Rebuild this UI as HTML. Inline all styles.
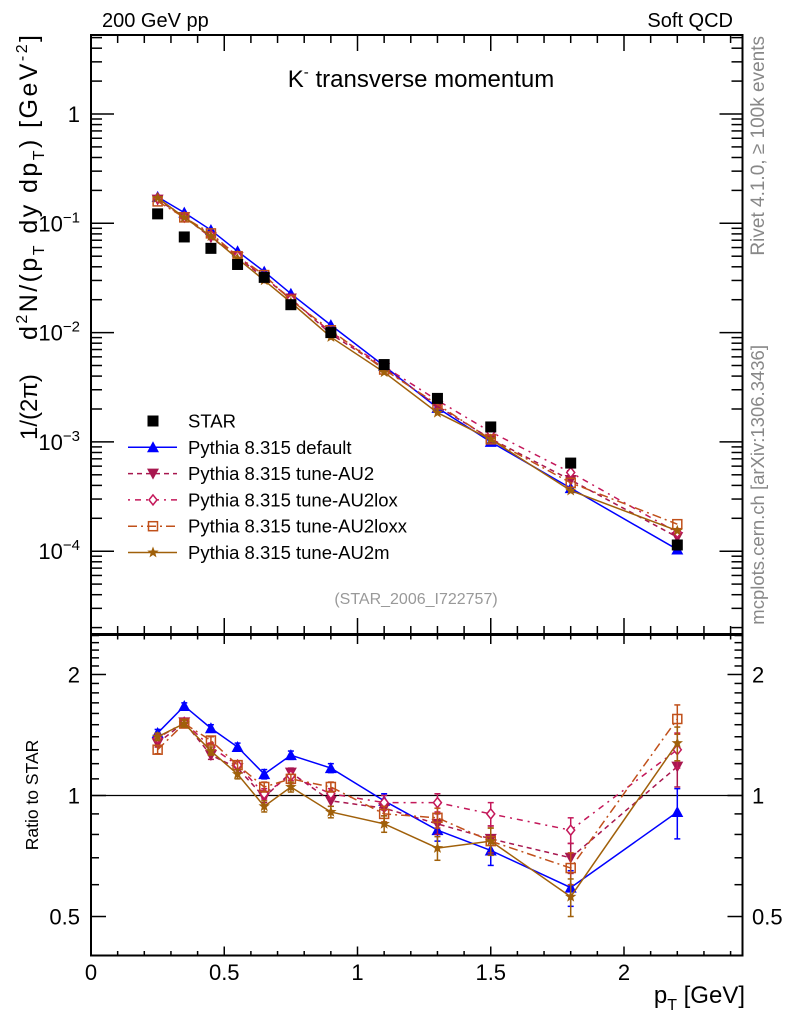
<!DOCTYPE html>
<html><head><meta charset="utf-8"><style>
html,body{margin:0;padding:0;background:#fff;}
svg{display:block;font-family:"Liberation Sans",Arial,sans-serif;}
</style></head><body>
<svg id="chart" width="786" height="1024" viewBox="0 0 786 1024" xmlns="http://www.w3.org/2000/svg">
<rect width="786" height="1024" fill="#fff"/>
<text x="102" y="27" font-size="20">200 GeV pp</text>
<text x="733" y="27" font-size="20" text-anchor="end">Soft QCD</text>
<text x="421" y="87" font-size="24" text-anchor="middle">K<tspan dy="-10" font-size="15">-</tspan><tspan dy="10"> transverse momentum</tspan></text>
<text transform="translate(37,440) rotate(-90)" font-size="24">1/(2π)</text>
<text transform="translate(37,35) rotate(-90)" font-size="25" text-anchor="end" textLength="305" lengthAdjust="spacing">d<tspan dy="-10" font-size="16">2</tspan><tspan dy="10">N/(p</tspan><tspan dy="7" font-size="16">T</tspan><tspan dy="-7"> dy dp</tspan><tspan dy="7" font-size="16">T</tspan><tspan dy="-7">) [GeV</tspan><tspan dy="-10" font-size="16">-2</tspan><tspan dy="10">]</tspan></text>
<text transform="translate(38,795) rotate(-90)" font-size="17.5" text-anchor="middle">Ratio to STAR</text>
<text x="745" y="1003" font-size="24" text-anchor="end">p<tspan dy="7" font-size="16">T</tspan><tspan dy="-7"> [GeV]</tspan></text>
<text transform="translate(764,36) rotate(-90)" font-size="19" fill="#888" text-anchor="end">Rivet 4.1.0, ≥ 100k events</text>
<text transform="translate(764,345) rotate(-90)" font-size="18.5" fill="#888" text-anchor="end">mcplots.cern.ch [arXiv:1306.3436]</text>
<text x="416" y="604" font-size="16" fill="#999" text-anchor="middle">(STAR_2006_I722757)</text>
<g id="axes"></g>
<g id="marks"></g>
<g id="legend"></g>
</svg>
<script>
const xs = [0.25,0.35,0.45,0.55,0.65,0.75,0.9,1.1,1.3,1.5,1.8,2.2];
const starVals = [0.122,0.075,0.059,0.042,0.032,0.018,0.010,0.0051,0.0025,0.00137,0.00064,0.000114];
const ratioDefault = [1.43,1.67,1.47,1.32,1.13,1.26,1.17,0.97,0.82,0.73,0.59,0.91];
const ratioAU2 = [1.35,1.52,1.26,1.17,0.99,1.14,0.97,0.93,0.85,0.78,0.70,1.18];
const ratioAU2lox = [1.39,1.52,1.32,1.19,1.01,1.12,1.01,0.96,0.96,0.90,0.82,1.30];
const ratioAU2loxx = [1.30,1.51,1.37,1.19,1.05,1.10,1.05,0.90,0.88,0.77,0.66,1.55];
const ratioAU2m = [1.40,1.51,1.29,1.13,0.94,1.05,0.91,0.85,0.74,0.77,0.56,1.35];
const ratioErr = [0.03,0.03,0.03,0.03,0.03,0.03,0.03,0.04,0.05,0.06,0.06,0.13];
const xTicks = [0,0.5,1,1.5,2];
const xTickLabels = ["0","0.5","1","1.5","2"];
const ratioTicks = [0.5,1,2];
const ratioTickLabels = ["0.5","1","2"];

const NS="http://www.w3.org/2000/svg";
const L=91,R=742.5,T1=35,B1=634,T2=635,B2=955.5;
const X=v=>L+v*266.5;
const Y1=v=>114-Math.log10(v)*109.3;
const Y2=v=>795.5-Math.log10(v)*402;
function mk(tag,attrs,parent){const e=document.createElementNS(NS,tag);for(const k in attrs)e.setAttribute(k,attrs[k]);parent.appendChild(e);return e;}
const ax=document.getElementById('axes'), mg=document.getElementById('marks'), lg=document.getElementById('legend');

let f1=mk('rect',{x:L,y:T1,width:R-L,height:B1-T1,fill:'none',stroke:'#000','stroke-width':2},ax);


let f2=mk('rect',{x:L,y:T2,width:R-L,height:B2-T2,fill:'none',stroke:'#000','stroke-width':2},ax);


let one=mk('line',{x1:L,x2:R,y1:Y2(1),y2:Y2(1),stroke:'#000','stroke-width':1.3},ax);



function tick(x1,y1,x2,y2){let t=mk('line',{x1,y1,x2,y2,stroke:'#000','stroke-width':1.5},ax);

}
for(let i=0;i<=24;i++){const v=i*0.1;const px=X(v);if(px>R)break;const maj=i%5===0;
 tick(px,T1,px,T1+(maj?16:8)); tick(px,B1,px,B1-(maj?16:8));
 tick(px,T2,px,T2+(maj?9:4.5)); tick(px,B2,px,B2-(maj?9:4.5));}
xTicks.forEach((v,i)=>{let t=mk('text',{x:X(v),y:980,'font-size':22,'text-anchor':'middle'},ax);t.textContent=xTickLabels[i];

});
for(let d=-5;d<=0;d++){for(let m=1;m<=9;m++){const v=m*Math.pow(10,d);const py=Y1(v);if(py<T1||py>B1)continue;const maj=m===1;
 tick(L,py,L+(maj?23:11),py); tick(R,py,R-(maj?23:11),py);}}
const decLab=[[1,'1',''],[0.1,'10','−1'],[0.01,'10','−2'],[0.001,'10','−3'],[0.0001,'10','−4']];
decLab.forEach(d=>{let t=mk('text',{x:80,y:Y1(d[0])+8,'font-size':22,'text-anchor':'end'},ax);
 
 
 if(d[2]){t.appendChild(document.createTextNode(d[1]));let s=mk('tspan',{dy:-9,'font-size':15},t);s.textContent=d[2];}else t.textContent=d[1];});
for(let i=4;i<=25;i++){const v=i/10;const py=Y2(v);if(py<T2||py>B2)continue;const maj=(i===5||i===10||i===20);
 tick(L,py,L+(maj?15:8),py); tick(R,py,R-(maj?15:8),py);}
ratioTicks.forEach((v,i)=>{[80,752].forEach((x,j)=>{let t=mk('text',{x:x,y:Y2(v)+8,'font-size':22,'text-anchor':j?'start':'end'},ax);t.textContent=ratioTickLabels[i];

});});

function marker(type,cx,cy,col,g){
 if(type==='sq') return mk('rect',{x:cx-5.5,y:cy-5.5,width:11,height:11,fill:'#000'},g);
 if(type==='up') return mk('polygon',{points:`${cx},${cy-6} ${cx-6},${cy+5} ${cx+6},${cy+5}`,fill:col},g);
 if(type==='down') return mk('polygon',{points:`${cx},${cy+6} ${cx-6},${cy-5} ${cx+6},${cy-5}`,fill:col},g);
 if(type==='dia') return mk('polygon',{points:`${cx},${cy-5} ${cx-4},${cy} ${cx},${cy+5} ${cx+4},${cy}`,fill:'#fff',stroke:col,'stroke-width':1.5},g);
 if(type==='osq') return mk('rect',{x:cx-4.5,y:cy-4.5,width:9,height:9,fill:'none',stroke:col,'stroke-width':1.5},g);
 if(type==='star'){let p=[];for(let k=0;k<10;k++){const r=k%2?2.5:6;const a=-Math.PI/2+k*Math.PI/5;p.push((cx+r*Math.cos(a)).toFixed(1)+','+(cy+r*Math.sin(a)).toFixed(1));}
  return mk('polygon',{points:p.join(' '),fill:col},g);}
}
const series=[
 {name:'Pythia 8.315 default',key:'default',ratio:ratioDefault,col:'#0000ff',dash:'',m:'up'},
 {name:'Pythia 8.315 tune-AU2',key:'au2',ratio:ratioAU2,col:'#a8174f',dash:'5,4',m:'down'},
 {name:'Pythia 8.315 tune-AU2lox',key:'au2lox',ratio:ratioAU2lox,col:'#c4185a',dash:'2,5,6,5',m:'dia'},
 {name:'Pythia 8.315 tune-AU2loxx',key:'au2loxx',ratio:ratioAU2loxx,col:'#c0501a',dash:'9,4,2,4',m:'osq'},
 {name:'Pythia 8.315 tune-AU2m',key:'au2m',ratio:ratioAU2m,col:'#a0600a',dash:'',m:'star'}
];
series.forEach(s=>{
 const g=mk('g',{},mg);
 
 
 const top=xs.map((x,i)=>[X(x),Y1(starVals[i]*s.ratio[i])]);
 const bot=xs.map((x,i)=>[X(x),Y2(s.ratio[i])]);
 let l1=mk('polyline',{points:top.map(p=>p.join(',')).join(' '),fill:'none',stroke:s.col,'stroke-width':1.5,'stroke-dasharray':s.dash},g);
 
 
 let l2=mk('polyline',{points:bot.map(p=>p.join(',')).join(' '),fill:'none',stroke:s.col,'stroke-width':1.5,'stroke-dasharray':s.dash},g);
 
 
 xs.forEach((x,i)=>{
  const r=s.ratio[i],e=ratioErr[i];
  const y1=Y2(r+e),y2=Y2(Math.max(r-e,0.05));
  let eb=mk('line',{x1:X(x),x2:X(x),y1:y1,y2:y2,stroke:s.col,'stroke-width':1.5},g);
  
  
  mk('line',{x1:X(x)-3,x2:X(x)+3,y1:y1,y2:y1,stroke:s.col,'stroke-width':1.5},g);
  mk('line',{x1:X(x)-3,x2:X(x)+3,y1:y2,y2:y2,stroke:s.col,'stroke-width':1.5},g);
  let a=marker(s.m,top[i][0],top[i][1],s.col,g);
  
  
  let b=marker(s.m,bot[i][0],bot[i][1],s.col,g);
  
  
 });
});
const sg=mk('g',{},mg);


xs.forEach((x,i)=>{let p=marker('sq',X(x),Y1(starVals[i]),'#000',sg);
 
 });

const rows=[{name:'STAR',m:'sq',col:'#000',dash:null}].concat(series);
rows.forEach((s,i)=>{
 const y=421+i*26.3;
 const g=mk('g',{},lg);
 
 
 if(s.dash!==null) mk('line',{x1:128,x2:177,y1:y,y2:y,stroke:s.col,'stroke-width':1.5,'stroke-dasharray':s.dash},g);
 marker(s.m,153,y,s.col,g);
 const t=mk('text',{x:188,y:y+6.5,'font-size':18.5},g);t.textContent=s.name;
});
</script>
</body></html>
